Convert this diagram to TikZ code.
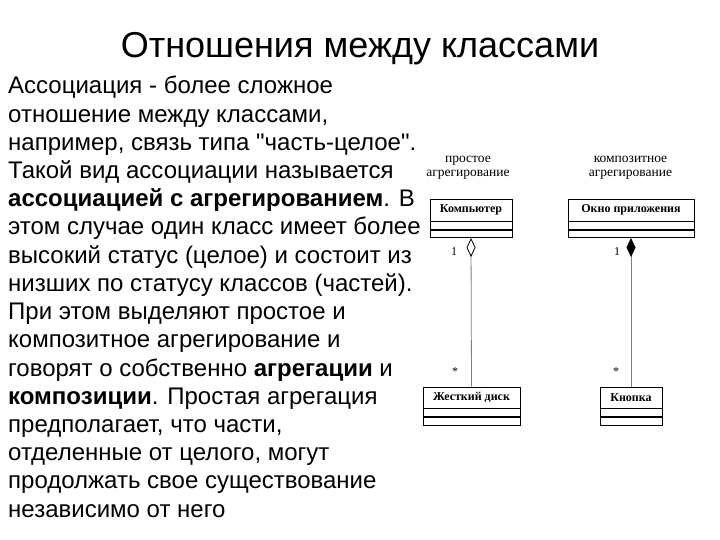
\documentclass[tikz,border=0pt]{standalone}
\usepackage{fontspec}
\setmainfont{Liberation Sans}
\newfontfamily\serifcyr{Liberation Serif}
\usetikzlibrary{arrows.meta}
\newcommand\mybodyfont{\fontsize{24}{28}\selectfont}
\begin{document}
\begin{tikzpicture}[x=1pt,y=-1pt,
  body/.style={anchor=base west, inner sep=0, font=\mybodyfont},
  cls/.style={draw, line width=0.8pt, inner sep=0, font=\serifcyr\bfseries\fontsize{12}{14}\selectfont},
  compart/.style={draw, line width=0.8pt, inner sep=0, minimum height=7.5pt, anchor=north},
  lbl/.style={font=\serifcyr\fontsize{13.5}{14}\selectfont, align=center, inner sep=0},
  mult/.style={font=\serifcyr\fontsize{12}{14}\selectfont, inner sep=0},
  link/.style={draw=gray, line width=0.8pt}
]
\fill[white] (0,0) rectangle (720,540);
\useasboundingbox (0,0) rectangle (720,540);

\node[font=\fontsize{36}{42}\selectfont, anchor=base, inner sep=0] (title) at (360,58) {Отношения между классами};

\node[body] (l1) at (8,94) {Ассоциация - более сложное};
\node[body] (l2) at (8,122.2) {отношение между классами,};
\node[body] (l3) at (8,150.4) {например, связь типа \textquotedbl часть-целое\textquotedbl.};
\node[body] (l4) at (8,178.6) {Такой вид ассоциации называется};
\node[body] (l5) at (8,206.8) {\textbf{ассоциацией с агрегированием}. В};
\node[body] (l6) at (8,235) {этом случае один класс имеет более};
\node[body] (l7) at (8,263.2) {высокий статус (целое) и состоит из};
\node[body] (l8) at (8,291.4) {низших по статусу классов (частей).};
\node[body] (l9) at (8,319.6) {При этом выделяют простое и};
\node[body] (l10) at (8,347.8) {композитное агрегирование и};
\node[body] (l11) at (8,376) {говорят о собственно \textbf{агрегации} и};
\node[body] (l12) at (8,404.2) {\textbf{композиции}. Простая агрегация};
\node[body] (l13) at (8,432.4) {предполагает, что части,};
\node[body] (l14) at (8,460.6) {отделенные от целого, могут};
\node[body] (l15) at (8,488.8) {продолжать свое существование};
\node[body] (l16) at (8,517) {независимо от него};

% labels
\node[lbl] (lblA) at (468,167.5) {простое\\агрегирование};
\node[lbl] (lblB) at (630.5,167.5) {композитное\\агрегирование};

% upper classes
\node[cls, minimum width=82pt, minimum height=22pt] (komp) at (471,210) {Компьютер};
\node[compart, minimum width=82pt] (kompA) at (komp.south) {};
\node[compart, minimum width=82pt] (kompB) at (kompA.south) {};

\node[cls, minimum width=126pt, minimum height=22pt] (okno) at (631,210) {Окно приложения};
\node[compart, minimum width=126pt] (oknoA) at (okno.south) {};
\node[compart, minimum width=126pt] (oknoB) at (oknoA.south) {};

% lower classes
\node[cls, minimum width=97pt, minimum height=21pt] (disk) at (471.5,397.5) {Жесткий диск};
\node[compart, minimum width=97pt, minimum height=8pt] (diskA) at (disk.south) {};
\node[compart, minimum width=97pt, minimum height=8pt] (diskB) at (diskA.south) {};

\node[cls, minimum width=62pt, minimum height=21pt] (knop) at (631,397.5) {Кнопка};
\node[compart, minimum width=62pt, minimum height=8pt] (knopA) at (knop.south) {};
\node[compart, minimum width=62pt, minimum height=8pt] (knopB) at (knopA.south) {};

% connectors
\draw[link, {Diamond[open, length=19pt, width=9pt, color=black, line width=0.8pt]}-] (kompB.south) -- (disk.north);
\draw[link, {Diamond[length=19pt, width=9pt, color=black, line width=0.8pt]}-] (oknoB.south) -- (knop.north);

% multiplicities
\node[mult] (m1) at (454,252) {1};
\node[mult] (m2) at (455,372) {*};
\node[mult] (m3) at (617,252) {1};
\node[mult] (m4) at (616,372) {*};
\end{tikzpicture}
\end{document}
